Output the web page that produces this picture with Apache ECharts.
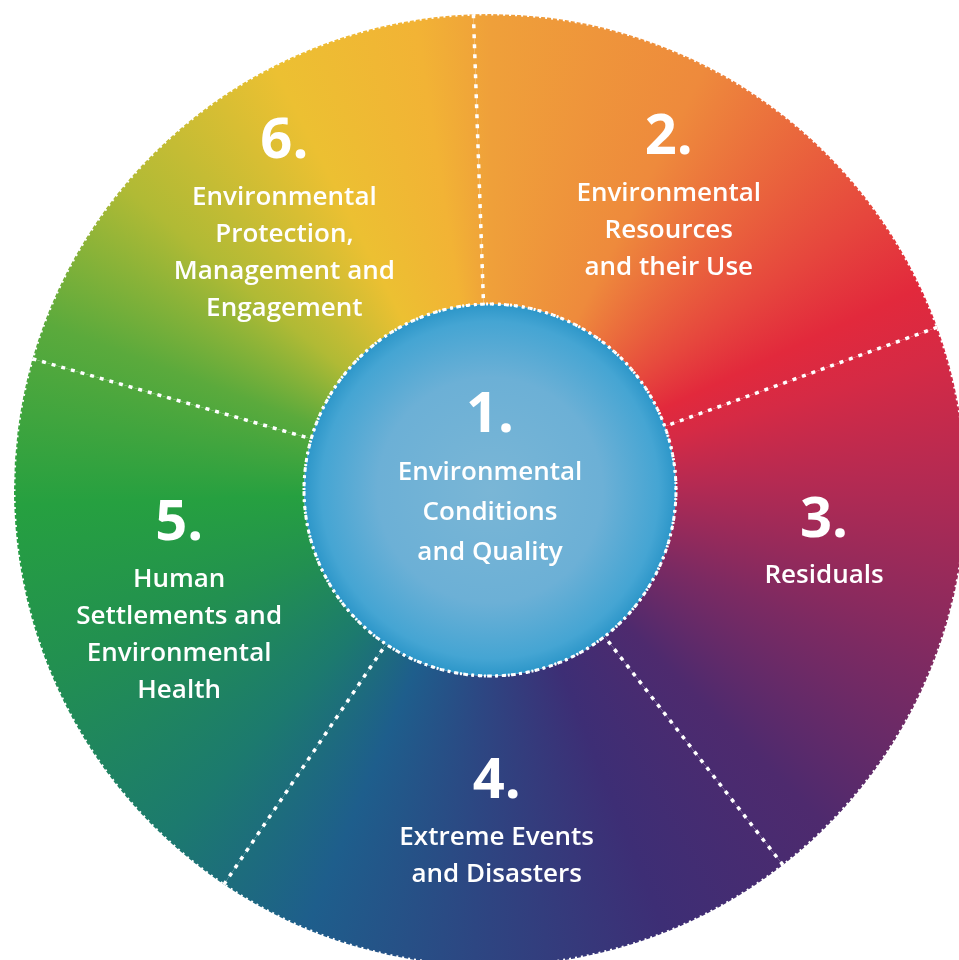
<!DOCTYPE html>
<html>
<head>
<meta charset="utf-8">
<script src="https://cdn.jsdelivr.net/npm/echarts@6/dist/echarts.min.js"></script>
<style>
  html, body { margin: 0; padding: 0; background: #fff; }
  #chart { width: 959px; height: 960px; }
</style>
</head>
<body>
<div id="chart"></div>
<script>
// the five outer themes, clockwise from the top
var sectionNumbers = ['2.', '3.', '4.', '5.', '6.'];
var sectionNames = [
  'Environmental\nResources\nand their Use',
  'Residuals',
  'Extreme Events\nand Disasters',
  'Human\nSettlements and\nEnvironmental\nHealth',
  'Environmental\nProtection,\nManagement and\nEngagement'
];
var sectionShares = [1, 1, 1, 1, 1];

// the core theme in the middle
var coreNumber = '1.';
var coreName = 'Environmental\nConditions\nand Quality';
var coreShare = [1];

var W = 959, H = 960;
var CX = 490, CY = 490, R_OUT = 476, R_IN = 186;
var START = 92;

// colour wheel round the ring (offset 0 = top, going clockwise)
var wheelStops = [
  [0.000, '#EFA03A'],
  [0.075, '#EE8A3C'],
  [0.150, '#E6463D'],
  [0.180, '#E2293C'],
  [0.205, '#D52A45'],
  [0.245, '#B52A52'],
  [0.313, '#7C2A62'],
  [0.375, '#4E2A6E'],
  [0.440, '#3D2E75'],
  [0.505, '#2D4682'],
  [0.563, '#1E5E8C'],
  [0.620, '#1C7A6E'],
  [0.690, '#229050'],
  [0.745, '#26A040'],
  [0.807, '#5BAA3C'],
  [0.860, '#B0BA35'],
  [0.925, '#ECC032'],
  [0.975, '#F2B335'],
  [1.000, '#EFA03A']
];

function wheelPattern() {
  var c = document.createElement('canvas');
  c.width = W; c.height = H;
  var ctx = c.getContext('2d');
  var g = ctx.createConicGradient(-Math.PI / 2, CX, CY);
  wheelStops.forEach(function (s) { g.addColorStop(s[0], s[1]); });
  ctx.fillStyle = g;
  ctx.fillRect(0, 0, W, H);
  return { image: c, repeat: 'no-repeat' };
}

// nudges for labels that sit off the sector middle
var labelPad = [[0, 16, 40, 0], [0, 0, 86, 26], [0, 10, 10, 0], [0, 0, 12, 6], [0, 0, 22, 0]];

function richLabel(num, name) {
  return '{n|' + num + '}\n' + name.split('\n').map(function (l) { return '{t|' + l + '}'; }).join('\n');
}

var ring = wheelPattern();
var chart = echarts.init(document.getElementById('chart'));
chart.setOption({
  backgroundColor: '#ffffff',
  animation: false,
  polar: { center: [CX, CY], radius: [R_IN, R_OUT] },
  angleAxis: {
    type: 'category',
    data: sectionNumbers,
    startAngle: START,
    z: 10,
    axisLine: { show: true, lineStyle: { color: '#ffffff', width: 3, type: [2, 4] } },
    axisTick: { show: false },
    axisLabel: { show: false },
    splitLine: { show: true, lineStyle: { color: '#ffffff', width: 3.5, type: [4, 6] } }
  },
  radiusAxis: { show: false },
  series: [{
    type: 'pie',
    silent: true,
    center: [CX, CY],
    radius: [R_IN, R_OUT],
    startAngle: START,
    clockwise: true,
    itemStyle: { color: ring, borderWidth: 0 },
    label: {
      show: true,
      position: 'inside',
      color: '#fff',
      formatter: function (p) { return richLabel(sectionNumbers[p.dataIndex], p.name); },
      rich: {
        n: { fontFamily: 'Open Sans', fontWeight: 'bold', fontSize: 56, lineHeight: 74, color: '#fff' },
        t: { fontFamily: 'Open Sans', fontWeight: 600, fontSize: 26, lineHeight: 37, color: '#fff' }
      }
    },
    labelLine: { show: false },
    data: sectionShares.map(function (v, i) {
      return { value: v, name: sectionNames[i], label: { padding: labelPad[i] } };
    })
  }, {
    type: 'pie',
    silent: true,
    z: 5,
    center: [CX, CY],
    radius: [0, R_IN],
    itemStyle: {
      color: new echarts.graphic.RadialGradient(0.5, 0.5, 0.5, [
        { offset: 0, color: '#7AB6D6' },
        { offset: 0.6, color: '#6CB0D6' },
        { offset: 0.9, color: '#45A5D3' },
        { offset: 1, color: '#2A95C8' }
      ]),
      borderColor: '#ffffff',
      borderWidth: 3,
      borderType: [3, 5]
    },
    label: {
      show: true,
      position: 'center',
      padding: [0, 0, 28, 0],
      formatter: function () { return richLabel(coreNumber, coreName); },
      rich: {
        n: { fontFamily: 'Open Sans', fontWeight: 'bold', fontSize: 56, lineHeight: 74, color: '#fff' },
        t: { fontFamily: 'Open Sans', fontWeight: 600, fontSize: 26, lineHeight: 40, color: '#fff' }
      }
    },
    labelLine: { show: false },
    data: coreShare.map(function (v) { return { value: v, name: coreName }; })
  }]
});
</script>
</body>
</html>
